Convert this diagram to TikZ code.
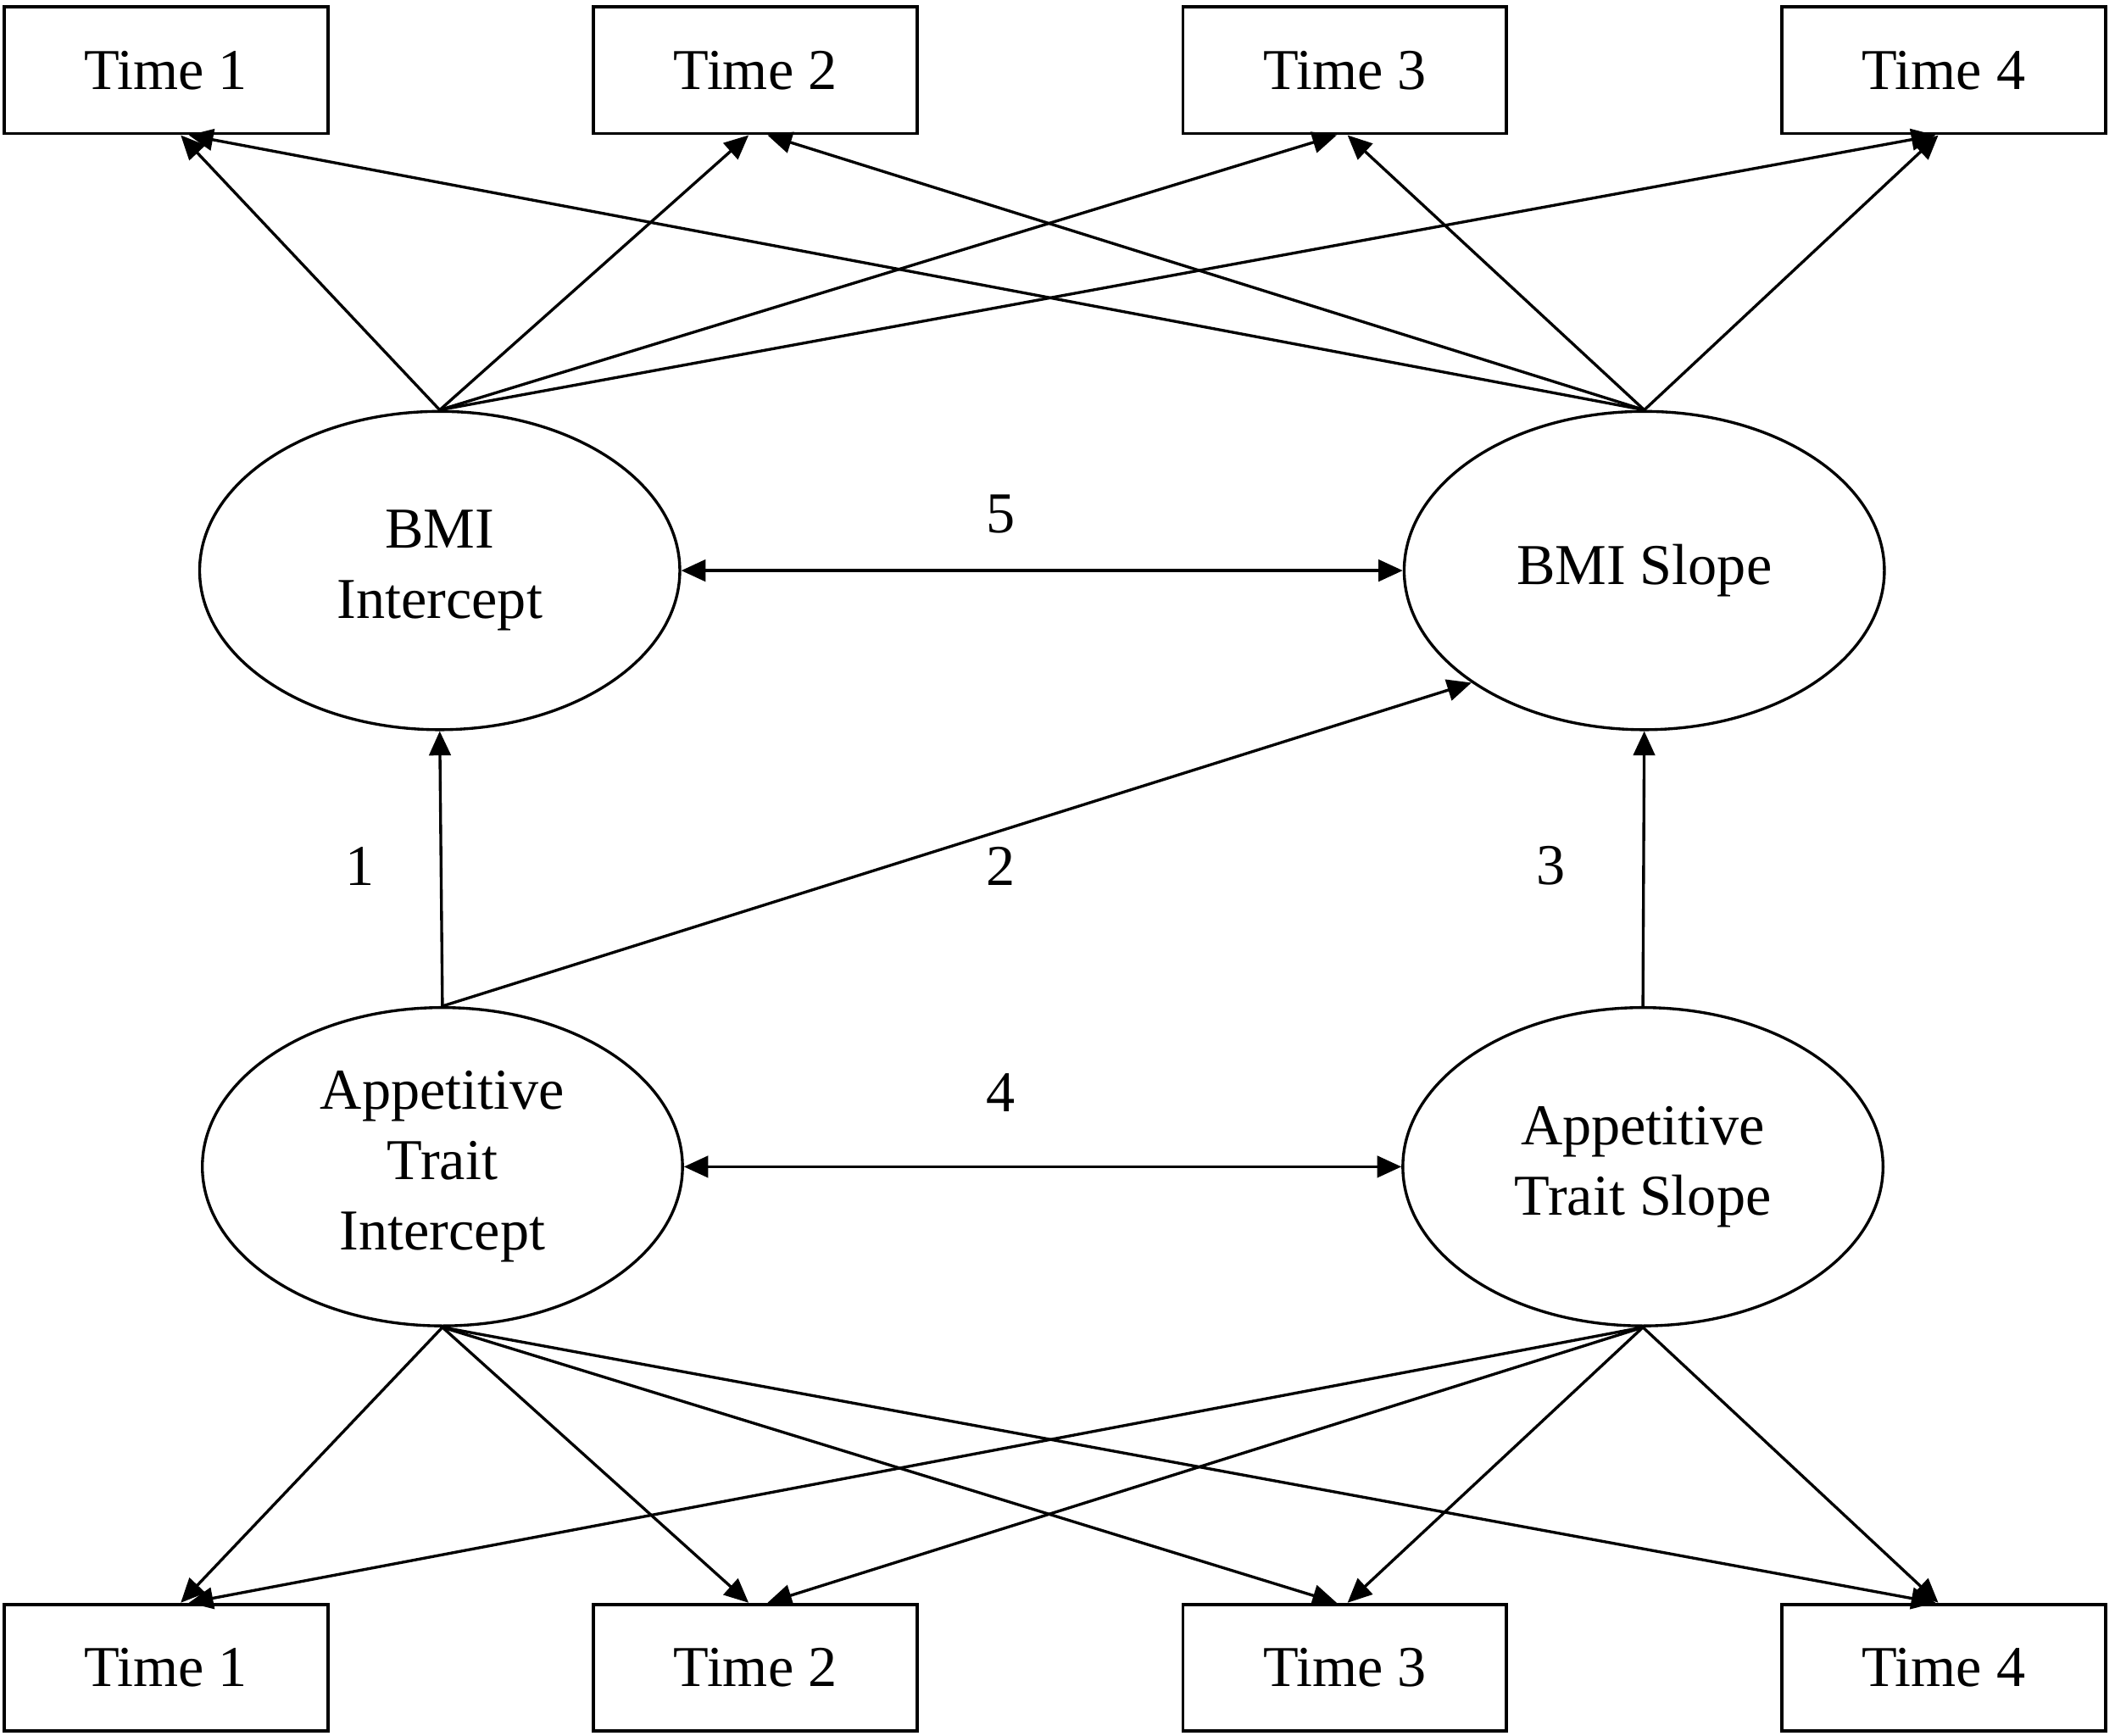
\documentclass[tikz,border=0pt]{standalone}
\usepackage{fontspec}
\setmainfont{Liberation Serif}
\usetikzlibrary{arrows.meta,shapes.geometric}
\begin{document}
\begin{tikzpicture}[x=1cm,y=1cm,
	every node/.style={font=\fontsize{12.2}{14.8}\selectfont},
	timebox/.style={draw,line width=0.7pt,minimum width=2.4cm,minimum height=0.94cm,inner sep=0pt},
	factor/.style={draw,ellipse,line width=0.6pt,minimum width=3.56cm,minimum height=2.36cm,inner sep=0pt,align=center},
	load/.style={line width=0.6pt,-{Triangle[length=0.18cm,width=0.16cm]}},
	covar/.style={line width=0.6pt,{Triangle[length=0.18cm,width=0.16cm]}-{Triangle[length=0.18cm,width=0.16cm]}}]
				\useasboundingbox (0,0) rectangle (15.68,-12.87);
				\node[timebox] (t1) at (1.23,-0.52) {Time 1};
				\node[timebox] (t2) at (5.60,-0.52) {Time 2};
				\node[timebox] (t3) at (9.97,-0.52) {Time 3};
				\node[timebox] (t4) at (14.41,-0.52) {Time 4};
				\node[timebox] (b1) at (1.23,-12.365) {Time 1};
				\node[timebox] (b2) at (5.60,-12.365) {Time 2};
				\node[timebox] (b3) at (9.97,-12.365) {Time 3};
				\node[timebox] (b4) at (14.41,-12.365) {Time 4};
				\node[factor] (bmiint) at (3.26,-4.23) {BMI\\Intercept};
				\node[factor] (bmislope) at (12.19,-4.23) {BMI Slope};
				\node[factor] (appint) at (3.28,-8.65) {Appetitive\\Trait\\Intercept};
				\node[factor] (appslope) at (12.18,-8.65) {Appetitive\\Trait Slope};
				\draw[load] (bmiint.north) to ([xshift=0.11cm]t1.south);
				\draw[load] (bmiint.north) to ([xshift=-0.05cm]t2.south);
				\draw[load] (bmiint.north) to ([xshift=-0.06cm]t3.south);
				\draw[load] (bmiint.north) to ([xshift=-0.06cm]t4.south);
				\draw[load] (bmislope.north) to ([xshift=0.17cm]t1.south);
				\draw[load] (bmislope.north) to ([xshift=0.09cm]t2.south);
				\draw[load] (bmislope.north) to ([xshift=0.02cm]t3.south);
				\draw[load] (bmislope.north) to ([xshift=-0.04cm]t4.south);
				\draw[load] (appint.south) to ([xshift=0.11cm]b1.north);
				\draw[load] (appint.south) to ([xshift=-0.05cm]b2.north);
				\draw[load] (appint.south) to ([xshift=-0.06cm]b3.north);
				\draw[load] (appint.south) to ([xshift=-0.06cm]b4.north);
				\draw[load] (appslope.south) to ([xshift=0.17cm]b1.north);
				\draw[load] (appslope.south) to ([xshift=0.09cm]b2.north);
				\draw[load] (appslope.south) to ([xshift=0.02cm]b3.north);
				\draw[load] (appslope.south) to ([xshift=-0.04cm]b4.north);
				\draw[load] (appint.north) to (bmiint.south);
				\draw[load] (appint.north) to (bmislope.213);
				\draw[load] (appslope.north) to (bmislope.south);
				\draw[covar] (bmiint.east) to (bmislope.west);
				\draw[covar] (appint.east) to (appslope.west);
				\node (n1) at (2.67,-6.42) {1};
				\node (n2) at (7.42,-6.42) {2};
				\node (n3) at (11.50,-6.42) {3};
				\node (n4) at (7.42,-8.10) {4};
				\node (n5) at (7.42,-3.81) {5};
\end{tikzpicture}
\end{document}
